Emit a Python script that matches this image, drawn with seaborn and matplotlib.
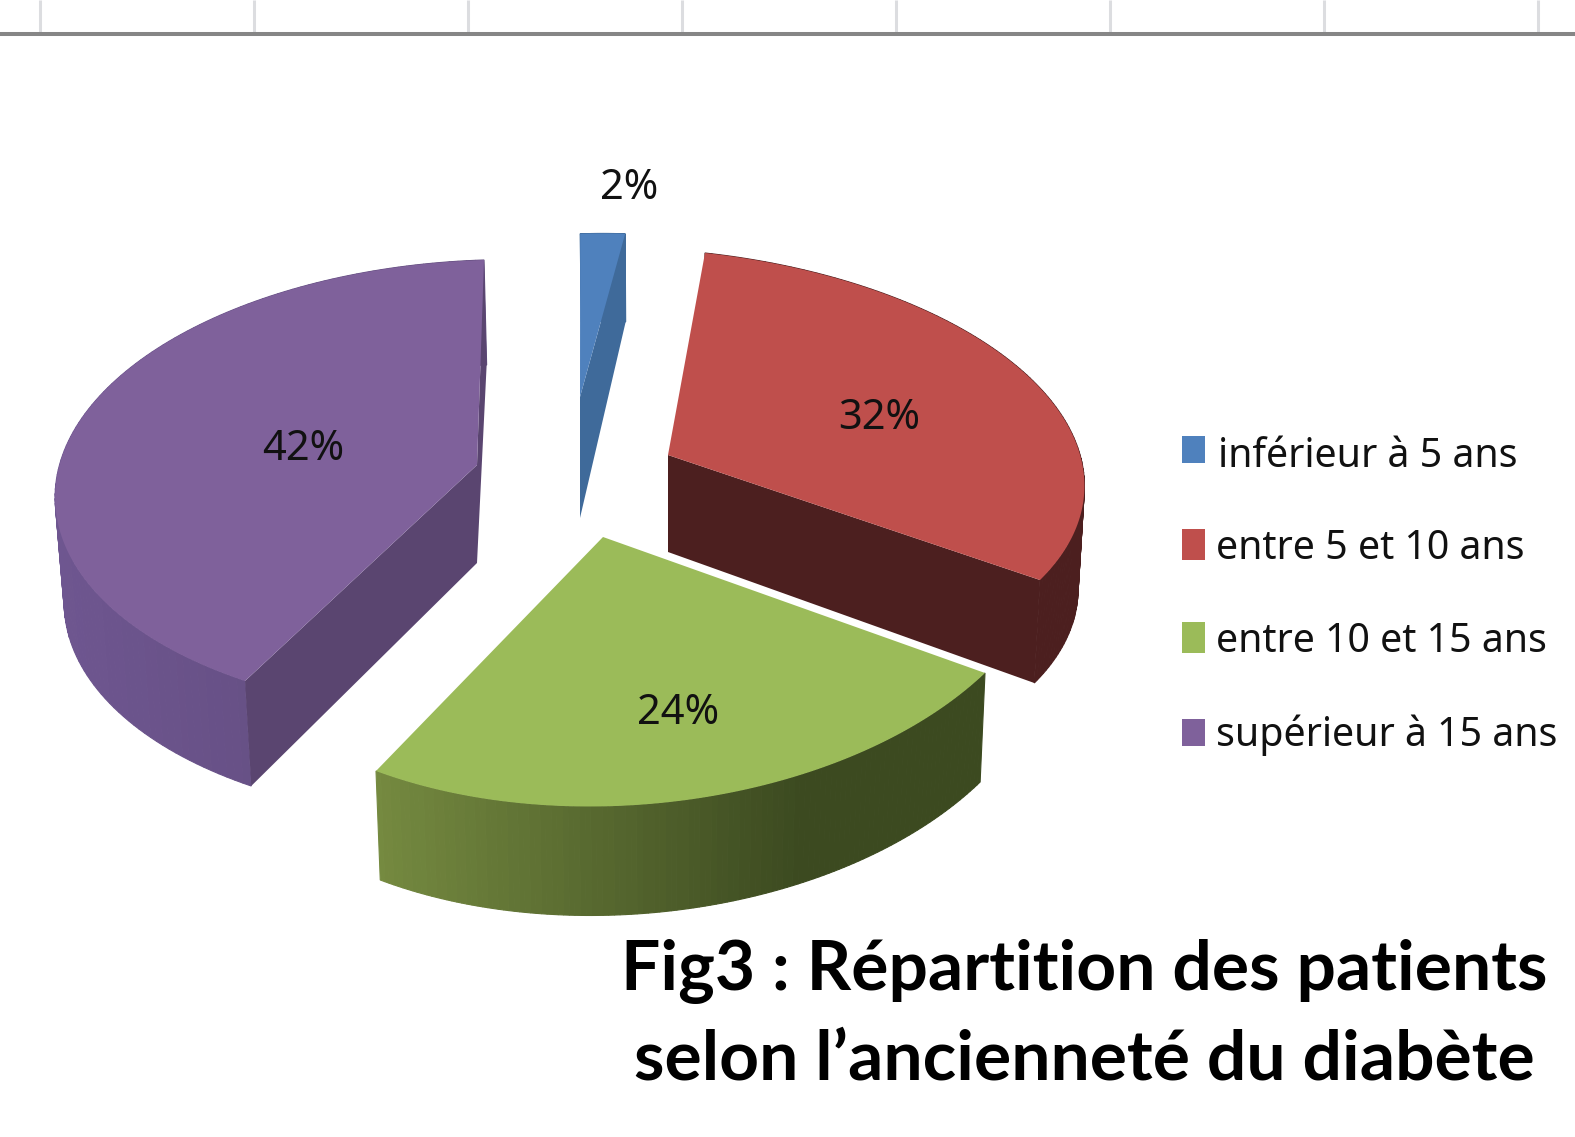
import numpy as np
import matplotlib
matplotlib.use("Agg")
import matplotlib.pyplot as plt
from matplotlib.patches import Polygon, Rectangle
import seaborn as sns

# ---- data ----
categories = ["inférieur à 5 ans", "entre 5 et 10 ans", "entre 10 et 15 ans", "supérieur à 15 ans"]
values = [2, 32, 24, 42]
title_lines = ["Fig3 : Répartition des patients", "selon l’ancienneté du diabète"]

# ---- style ----
top_colors = ["#4F81BD", "#BF4F4C", "#9BBB59", "#7F619B"]
side_left = ["#3F6A9A", "#4C1F1F", "#758A40", "#6E5690"]
side_right = ["#3F6A9A", "#4C1F1F", "#3C4A20", "#5F4A7A"]
side_clamp = [1.0, 1.0, 0.7, 1.0]
cut_colors = ["#3F6A9A", "#4C1F1F", "#3C4A20", "#5A4570"]
cut_ends = [[-1], [-1], [], [0, -1]]

# layout, in image pixels: apex of each exploded slice, and rim anchors (start, middle, end)
apexes = [(580, 397), (668, 455), (603, 537), (477, 465)]
rims = [
    [(580, 234), (603, 233), (625, 234)],
    [(705, 253), (1030, 378), (1040, 580)],
    [(985, 673), (700, 798), (376, 771)],
    [(245, 681), (82, 418), (484, 260)],
]
rim_depth = [88, 103, 109, 105]
apex_depth = [121, 97, 108, 98]
bottom_scale, bottom_cx = 0.985, 660
label_pos = [(629, 188), (879, 418), (678, 713), (303, 449)]
legend_y = [(436, 463, 467), (529, 560, 559), (622, 653, 652), (719, 746, 746)]
legend_x = [1218, 1216, 1216, 1216]
grid_x = [40, 254, 468, 682, 896, 1110, 1324, 1538]

sns.set_theme(style="white")
plt.rcParams["font.family"] = ["Noto Sans", "DejaVu Sans"]

fig, ax = plt.subplots(figsize=(15.75, 11.37), dpi=100)
fig.subplots_adjust(0, 0, 1, 1)

wedges, _ = ax.pie(values, colors=top_colors, startangle=90, counterclock=False)
ax.set_aspect("auto")
ax.set_xlim(0, 1575)
ax.set_ylim(1137, 0)
ax.axis("off")


def fit_projection(angles, targets, perspective):
    """Projective map of the unit disc (centre stays at the origin) through the rim anchors."""
    A, B = [], []
    for t, (x, y) in zip(angles, targets):
        u, v = np.cos(t), np.sin(t)
        A.append([u, v, 0, 0, -u * x if perspective else 0, -v * x if perspective else 0])
        B.append(x)
        A.append([0, 0, u, v, -u * y if perspective else 0, -v * y if perspective else 0])
        B.append(y)
    return np.linalg.lstsq(np.array(A), np.array(B), rcond=None)[0]


for i, w in enumerate(wedges):
    # wedge angles come from the pie itself; clockwise order start -> end
    t_start, t_end = w.theta2, w.theta1
    w.set_visible(False)
    ang = np.radians([t_start, (t_start + t_end) / 2, t_end])
    apex = np.array(apexes[i], float)
    a, b, c, d_, g, h = fit_projection(ang, np.array(rims[i], float) - apex, (t_start - t_end) > 30)

    th = np.radians(np.linspace(t_start, t_end, 121))
    u, v = np.cos(th), np.sin(th)
    den = g * u + h * v + 1
    pts = np.column_stack([(a * u + b * v) / den, (c * u + d_ * v) / den]) + apex

    def lower(p, depth=rim_depth[i]):
        return np.array([bottom_cx + (p[0] - bottom_cx) * bottom_scale, p[1] + depth])

    # outer side with a gradient
    xs = pts[:, 0]
    xn = np.clip((xs - xs.min()) / max(xs.max() - xs.min(), 1) / side_clamp[i], 0, 1)
    pal = sns.blend_palette([side_left[i], side_right[i]], 41)
    for k in range(len(pts) - 1):
        col = pal[int(round(xn[k] * 40))]
        ax.add_patch(Polygon([pts[k], pts[k + 1], lower(pts[k + 1]), lower(pts[k])],
                             closed=True, fc=col, ec=col, lw=0.8, zorder=10 + i * 3))
    # cut faces
    for e in cut_ends[i]:
        ax.add_patch(Polygon([apex, pts[e], lower(pts[e]), apex + [0, apex_depth[i]]],
                             closed=True, fc=cut_colors[i], ec="none", zorder=11 + i * 3))
    # top face
    ax.add_patch(Polygon(np.vstack([apex, pts]), closed=True, fc=top_colors[i], ec="none",
                         zorder=12 + i * 3))

for (x, y), v in zip(label_pos, values):
    ax.text(x, y, f"{v}%", ha="center", va="center", fontsize=30, color="#111111", zorder=40)

for c, name, (y0, y1, base), x in zip(top_colors, categories, legend_y, legend_x):
    ax.add_patch(Rectangle((1182, y0), 23, y1 - y0, fc=c, ec="none", zorder=40))
    ax.text(x, base, name, ha="left", va="baseline", fontsize=28.3, color="#111111", zorder=40)

ax.vlines(grid_x, 0, 33, color="#DCDDE0", lw=2.2, zorder=1)
ax.hlines(34, 0, 1575, color="#868686", lw=2.9, zorder=2)

for line, base in zip(title_lines, (990, 1080)):
    ax.text(1084, base, line, ha="center", va="baseline", fontsize=50, fontweight="bold",
            family=["Lato", "DejaVu Sans"], color="black", zorder=40)

fig.savefig("out.png", dpi=100)
